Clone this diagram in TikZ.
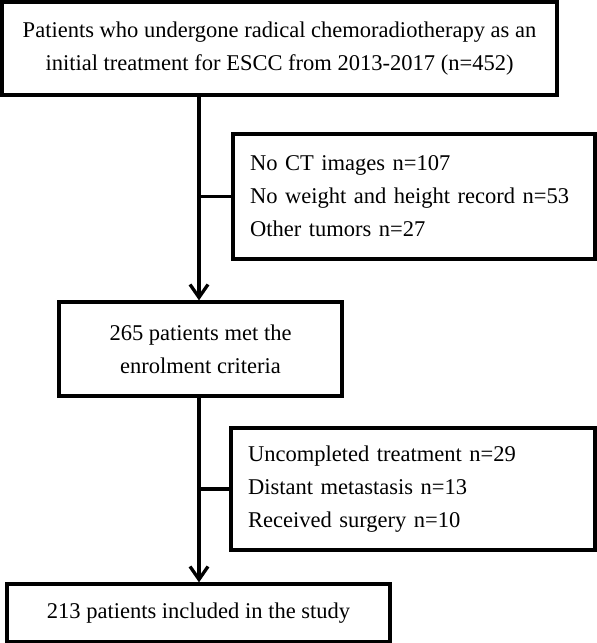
\documentclass[tikz,border=0pt]{standalone}
\usepackage{fontspec}
\setmainfont{Liberation Serif}
\usetikzlibrary{arrows.meta}
\begin{document}
\begin{tikzpicture}[x=1bp,y=-1bp,
  box/.style={draw, line width=3.3bp, inner sep=0pt, align=center,
    font=\fontsize{22.6}{33}\selectfont},
  lbox/.style={box, align=left, inner xsep=17bp},
  conn/.style={line width=3.3bp},
  arr/.style={conn, -{Straight Barb[length=13bp,width=18bp,line width=3.3bp]}}]
\useasboundingbox (0,0) rectangle (597,643);
\node[box, minimum width=555bp, minimum height=93bp] (b1) at (279.5,48.5)
  {Patients who undergone radical chemoradiotherapy as an\\initial treatment for ESCC from 2013-2017 (n=452)};
\node[lbox, text width=328bp, minimum height=125bp] (b2) at (414,196.5)
  {No CT images n=107\\No weight and height record n=53\\Other tumors n=27};
\node[box, minimum width=283bp, minimum height=94bp] (b3) at (200.5,349)
  {265 patients met the\\enrolment criteria};
\node[lbox, text width=330bp, minimum height=122bp] (b5) at (413,489)
  {Uncompleted treatment n=29\\Distant metastasis n=13\\Received surgery n=10};
\node[box, minimum width=383bp, minimum height=58bp] (b4) at (198.5,613)
  {213 patients included in the study};
\coordinate (t1) at (199,0);
\draw[arr] (b1.south -| t1) -- (b3.north -| t1);
\draw[conn] (b2.west -| t1) -- (b2.west);
\draw[arr] (b3.south -| t1) -- (b4.north -| t1);
\draw[conn] (b5.west -| t1) -- (b5.west);
\end{tikzpicture}
\end{document}
